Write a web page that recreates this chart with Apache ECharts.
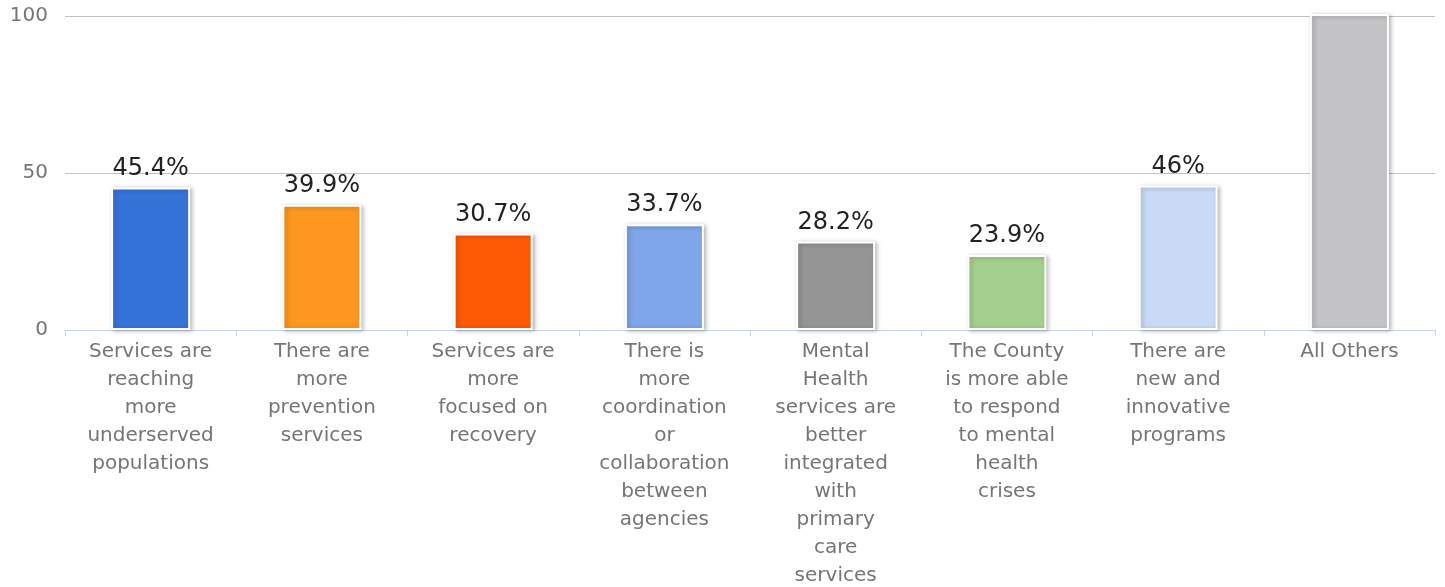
<!DOCTYPE html>
<html>
<head>
<meta charset="utf-8">
<script src="https://cdn.jsdelivr.net/npm/echarts@6/dist/echarts.min.js"></script>
<style>
  html, body { margin: 0; padding: 0; background: #fff; overflow: hidden; }
  #chart { width: 1445px; height: 587px; }
</style>
</head>
<body>
<div id="chart"></div>
<script>
// Survey responses: share of respondents choosing each improvement (%)
const categories = [
  'Services are\nreaching\nmore\nunderserved\npopulations',
  'There are\nmore\nprevention\nservices',
  'Services are\nmore\nfocused on\nrecovery',
  'There is\nmore\ncoordination\nor\ncollaboration\nbetween\nagencies',
  'Mental\nHealth\nservices are\nbetter\nintegrated\nwith\nprimary\ncare\nservices',
  'The County\nis more able\nto respond\nto mental\nhealth\ncrises',
  'There are\nnew and\ninnovative\nprograms',
  'All Others'
];
const values = [45.4, 39.9, 30.7, 33.7, 28.2, 23.9, 46, 100.6];
const showLabel = [true, true, true, true, true, true, true, false];
const barColors = ['#3673d9', '#fd971f', '#fe5a04', '#7ea6e8', '#959595', '#a4d08d', '#c9daf6', '#c4c4c6'];
const yTicks = [0, 50, 100];

const font = 'DejaVu Sans';

const chart = echarts.init(document.getElementById('chart'), null, { renderer: 'canvas' });
chart.setOption({
  animation: false,
  backgroundColor: '#ffffff',
  grid: {
    left: 65, right: 10, top: 16, bottom: 257,
    containLabel: false,
    outerBoundsMode: 'none'
  },
  xAxis: {
    type: 'category',
    data: categories,
    axisLine: { show: true, lineStyle: { color: '#c5d5e8', width: 1 } },
    axisTick: { show: true, alignWithLabel: false, length: 6, lineStyle: { color: '#c5d5e8' } },
    axisLabel: {
      interval: 0,
      margin: 8,
      fontFamily: font,
      fontSize: 20,
      lineHeight: 28,
      color: '#757575',
      align: 'center',
      verticalAlign: 'top'
    },
    splitLine: { show: false }
  },
  yAxis: {
    type: 'value',
    min: yTicks[0],
    max: yTicks[yTicks.length - 1],
    interval: yTicks[1] - yTicks[0],
    axisLine: { show: false },
    axisTick: { show: false },
    axisLabel: { fontFamily: font, fontSize: 20, color: '#757575', margin: 17 },
    splitLine: { show: true, lineStyle: { color: '#c2c2c2', width: 1 } }
  },
  series: [{
    type: 'bar',
    clip: false,
    barWidth: 79,
    data: values.map((v, i) => ({
      value: v,
      itemStyle: { color: barColors[i] },
      label: { show: showLabel[i] }
    })),
    itemStyle: {
      borderColor: '#ffffff',
      borderWidth: 2,
      shadowColor: 'rgba(0,0,0,0.25)',
      shadowBlur: 4,
      shadowOffsetX: 2,
      shadowOffsetY: 1
    },
    label: {
      position: 'top',
      distance: 7,
      formatter: '{c}%',
      fontFamily: font,
      fontSize: 24,
      color: '#222222'
    }
  }]
});
</script>
</body>
</html>
